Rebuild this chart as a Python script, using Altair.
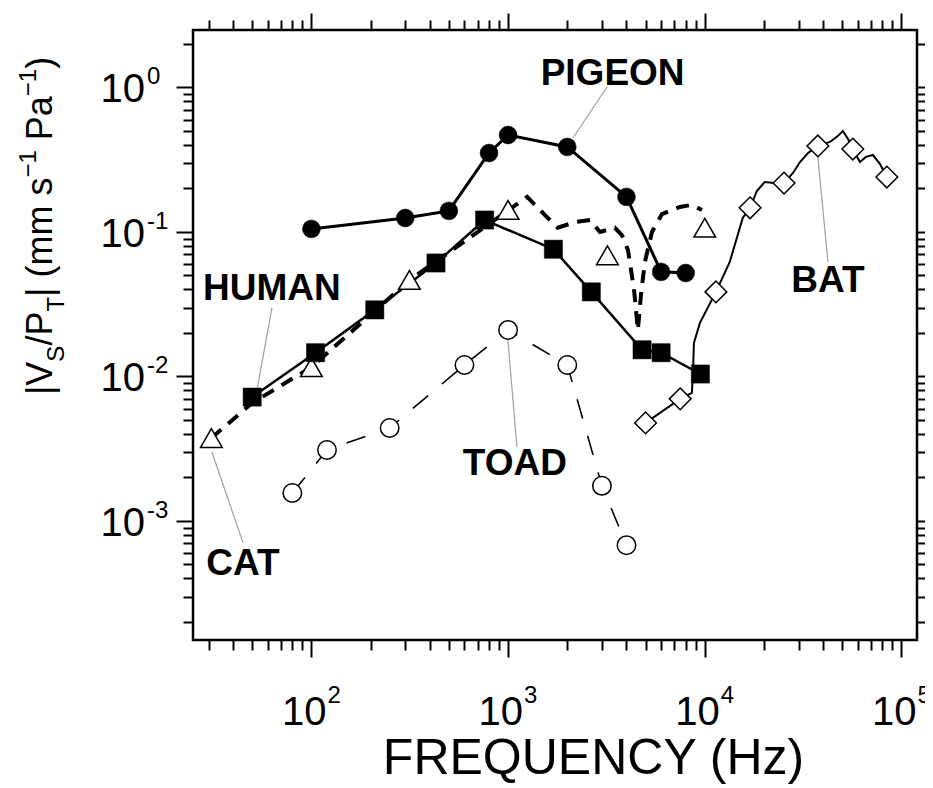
import altair as alt
import pandas as pd

FONT = "Liberation Sans"

# ---------------- data ----------------
pigeon_f = [100, 300, 500, 800, 1000, 2000, 4000, 6000, 8000]
pigeon_v = [0.105, 0.125, 0.140, 0.352, 0.469, 0.388, 0.175, 0.053, 0.052]

human_f = [50, 105, 210, 430, 760, 1700, 2650, 4800, 6000, 9500]
human_v = [0.0072, 0.0146, 0.0289, 0.061, 0.121, 0.076, 0.0385, 0.0153, 0.0146, 0.0104]

cat_f = [31, 100, 315, 1000, 3200, 10000]
cat_v = [0.00375, 0.0116, 0.0466, 0.142, 0.069, 0.107]

cat_curve_f = [31, 50, 100, 317, 1010, 1250, 1540, 1790, 2190, 2610, 2930, 3490,
               3790, 4070, 4370, 4570, 4740, 4960, 5390, 6060, 7480, 8600, 9680]
cat_curve_v = [0.00375, 0.00656, 0.0116, 0.0466, 0.142, 0.175, 0.131, 0.107, 0.117,
               0.121, 0.100, 0.107, 0.0953, 0.0751, 0.0397, 0.0210, 0.0367, 0.062,
               0.100, 0.133, 0.149, 0.154, 0.142]

toad_f = [80, 120, 250, 600, 1000, 2000, 3000, 4000]
toad_v = [0.00156, 0.0031, 0.0044, 0.0120, 0.0210, 0.0120, 0.00175, 0.00068]

bat_f = [5000, 7500, 11400, 17000, 25300, 37600, 56600, 84300]
bat_v = [0.00477, 0.0070, 0.0385, 0.147, 0.218, 0.394, 0.375, 0.240]

bat_curve_f = [5000, 7500, 8600, 8710, 8810, 9450, 11400, 13400, 15600, 17000, 18400,
               20200, 22500, 25300, 28100, 30500, 33500, 37600, 43300, 47500, 50400,
               53500, 56600, 61500, 66000, 71600, 77700, 84300]
bat_curve_v = [0.00477, 0.0070, 0.00769, 0.01057, 0.01706, 0.0235, 0.0385, 0.062, 0.125,
               0.147, 0.192, 0.222, 0.218, 0.218, 0.256, 0.305, 0.352, 0.394, 0.420,
               0.462, 0.500, 0.440, 0.375, 0.305, 0.331, 0.341, 0.296, 0.240]

# callout labels and their leader lines (data coordinates)
callout_names = ["PIGEON", "HUMAN", "TOAD", "BAT", "CAT"]
callout_f = [3400, 63, 1083, 42300, 44.9]
callout_v = [1.04, 0.0339, 0.00208, 0.0385, 0.000423]
leader_f1 = [3182, 63.0, 998, 37600, 31.2]
leader_v1 = [1.008, 0.0298, 0.0179, 0.330, 0.0030]
leader_f2 = [2137, 52.9, 1109, 42300, 44.9]
leader_v2 = [0.447, 0.00807, 0.00325, 0.062, 0.000705]

# axis tick labels
x_label_vals = [100, 1000, 10000, 100000]
x_label_exp = ["2", "3", "4", "5"]
y_label_vals = [1, 0.1, 0.01, 0.001]
y_label_exp = ["0", "-1", "-2", "-3"]

X_DOMAIN = [25, 120000]
Y_DOMAIN = [1.5e-4, 2.5]
x_ticks = [m * 10 ** k for k in range(1, 5) for m in range(1, 10)
           if X_DOMAIN[0] <= m * 10 ** k <= X_DOMAIN[1]] + [100000]
y_ticks = [m * 10.0 ** k for k in range(-4, 1) for m in range(1, 10)
           if Y_DOMAIN[0] <= m * 10.0 ** k <= Y_DOMAIN[1]]

# y-axis title pieces: (text, role); "gap" pieces only advance the position
ytitle_pieces = [("|V", "main"), ("S", "sub"), ("/P", "main"), ("T", "sub"),
                 ("| (mm s", "main"), ("\u22121", "sup"), (" ", "gap"), ("Pa", "main"),
                 ("\u22121", "sup"), (")", "main")]

# ---------------- layout / style ----------------
W, H = 724, 610
xscale = alt.Scale(type="log", domain=X_DOMAIN, nice=False)
yscale = alt.Scale(type="log", domain=Y_DOMAIN, nice=False)

MAJOR = "abs(log(datum.value)/LN10 - round(log(datum.value)/LN10)) < 0.000001"
TICKSIZE = {"condition": {"test": MAJOR, "value": 17}, "value": 10}


def tick_axis(orient, values, **kw):
    return alt.Axis(orient=orient, values=values, labels=False, domain=False,
                    grid=False, ticks=True, tickColor="black", tickWidth=2,
                    tickSize=TICKSIZE, **kw)


def frame(f, v):
    return pd.DataFrame({"f": f, "v": v, "i": list(range(len(f)))})


def line_layer(f, v, xaxis=None, yaxis=None, **mark):
    return alt.Chart(frame(f, v)).mark_line(color="black", **mark).encode(
        x=alt.X("f:Q", scale=xscale, axis=xaxis),
        y=alt.Y("v:Q", scale=yscale, axis=yaxis),
        order="i:Q",
    )


def point_layer(f, v, **mark):
    return alt.Chart(frame(f, v)).mark_point(opacity=1, filled=True, **mark).encode(
        x=alt.X("f:Q", scale=xscale, axis=None),
        y=alt.Y("v:Q", scale=yscale, axis=None),
    )


bottom_axis = tick_axis("bottom", x_ticks, title="FREQUENCY (Hz)", titleFont=FONT,
                        titleFontSize=50, titleFontWeight="normal", titleColor="black",
                        titleX=400, titleY=133, titleAlign="center",
                        titleBaseline="alphabetic")
left_axis = tick_axis("left", y_ticks, title=None)
top_axis = tick_axis("top", x_ticks, title=None)
right_axis = tick_axis("right", y_ticks, title=None)

# lines
toad_line = line_layer(toad_f, toad_v, strokeWidth=1.6, strokeDash=[20, 18])
cat_line = line_layer(cat_curve_f, cat_curve_v, strokeWidth=4, strokeDash=[13, 9])
bat_line = line_layer(bat_curve_f, bat_curve_v, strokeWidth=2)
human_line = line_layer(human_f, human_v, xaxis=bottom_axis, yaxis=left_axis, strokeWidth=2.5)
pigeon_line = line_layer(pigeon_f, pigeon_v, xaxis=top_axis, yaxis=right_axis, strokeWidth=3)

# markers
toad_pts = point_layer(toad_f, toad_v, shape="circle", size=340, fill="white",
                       stroke="black", strokeWidth=1.5)
cat_pts = point_layer(cat_f, cat_v, shape="triangle-up", size=470, fill="white",
                      stroke="black", strokeWidth=1.5)
bat_pts = point_layer(bat_f, bat_v, shape="diamond", size=470, fill="white",
                      stroke="black", strokeWidth=1.5)
human_pts = point_layer(human_f, human_v, shape="square", size=330, fill="black",
                        stroke="black", strokeWidth=0.5)
pigeon_pts = point_layer(pigeon_f, pigeon_v, shape="circle", size=320, fill="black",
                         stroke="black", strokeWidth=0.5)

# callouts
leaders = alt.Chart(pd.DataFrame({"f1": leader_f1, "v1": leader_v1,
                                  "f2": leader_f2, "v2": leader_v2})).mark_rule(
    color="#a0a0a0", strokeWidth=1.2).encode(
    x=alt.X("f1:Q", scale=xscale, axis=None), y=alt.Y("v1:Q", scale=yscale, axis=None),
    x2="f2:Q", y2="v2:Q")

callouts = alt.Chart(pd.DataFrame({"f": callout_f, "v": callout_v, "t": callout_names})).mark_text(
    font=FONT, fontWeight="bold", fontSize=37, align="center", baseline="alphabetic",
    color="black").encode(
    x=alt.X("f:Q", scale=xscale, axis=None), y=alt.Y("v:Q", scale=yscale, axis=None),
    text="t:N")

# tick labels (10 with superscript exponents)
xlab_df = pd.DataFrame({"f": x_label_vals, "base": ["10"] * 4, "exp": x_label_exp})
xlab_base = alt.Chart(xlab_df).mark_text(font=FONT, fontSize=40, align="right",
                                         baseline="alphabetic", dx=15, color="black").encode(
    x=alt.X("f:Q", scale=xscale, axis=None), y=alt.value(H + 85), text="base:N")
xlab_exp = alt.Chart(xlab_df).mark_text(font=FONT, fontSize=24, align="left",
                                        baseline="alphabetic", dx=16, color="black").encode(
    x=alt.X("f:Q", scale=xscale, axis=None), y=alt.value(H + 63), text="exp:N")

ylab_df = pd.DataFrame({"v": y_label_vals, "base": ["10"] * 4, "exp": y_label_exp})
ylab_base = alt.Chart(ylab_df).mark_text(font=FONT, fontSize=40, align="right",
                                         baseline="alphabetic", dy=15, color="black").encode(
    y=alt.Y("v:Q", scale=yscale, axis=None), x=alt.value(-48), text="base:N")
ylab_exp = alt.Chart(ylab_df).mark_text(font=FONT, fontSize=24, align="left",
                                        baseline="alphabetic", dy=-3, color="black").encode(
    y=alt.Y("v:Q", scale=yscale, axis=None), x=alt.value(-46), text="exp:N")

# rotated y-axis title built from pieces
CHAR_W = {"|": 0.26, "V": 0.667, "S": 0.667, "/": 0.278, "P": 0.667, "T": 0.611,
          " ": 0.278, "(": 0.333, ")": 0.333, "m": 0.833, "s": 0.5, "a": 0.556,
          "1": 0.556, "\u2212": 0.584}
ROLE_SIZE = {"main": 36, "sub": 24, "sup": 24, "gap": 36}
ROLE_X = {"main": 52 - 193, "sub": 64 - 193, "sup": 36 - 193}
ypos = 395 - 30
ytitle_layers = []
for text, role in ytitle_pieces:
    fs = ROLE_SIZE[role]
    if role != "gap":
        ytitle_layers.append(
            alt.Chart(pd.DataFrame({"t": [text]})).mark_text(
                font=FONT, fontSize=fs, angle=270, align="left", baseline="alphabetic",
                color="black").encode(x=alt.value(ROLE_X[role]), y=alt.value(ypos), text="t:N"))
    ypos -= sum(CHAR_W.get(c, 0.556) for c in text) * fs

chart = alt.layer(
    leaders, toad_line, cat_line, bat_line, human_line, pigeon_line,
    toad_pts, cat_pts, bat_pts, human_pts, pigeon_pts,
    callouts, xlab_base, xlab_exp, ylab_base, ylab_exp, *ytitle_layers,
).resolve_axis(x="independent", y="independent").properties(
    width=W, height=H,
    autosize=alt.AutoSizeParams(type="none"),
    padding={"left": 185, "top": 22, "right": 8, "bottom": 148},
    background="white",
).configure_view(stroke="black", strokeWidth=2.5)

chart.save("out.html", embed_options={"renderer": "svg", "actions": False})
